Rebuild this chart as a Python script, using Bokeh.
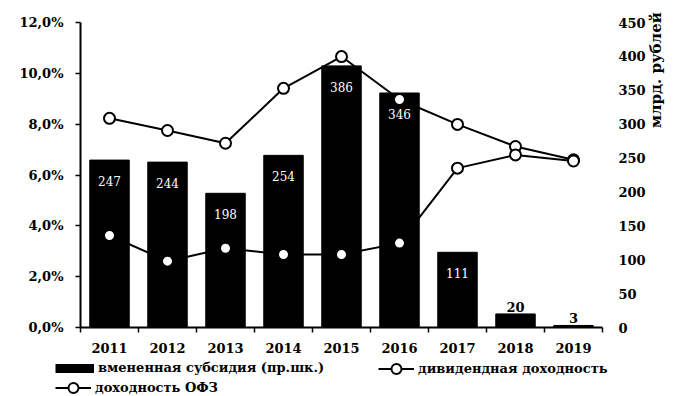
import math
from bokeh.plotting import figure
from bokeh.layouts import column
from bokeh.models import (ColumnDataSource, Range1d, LinearAxis, FixedTicker,
                          Legend, LegendItem)
from bokeh.core.properties import value
from bokeh.embed import file_html
from bokeh.resources import INLINE

# ---------------- data ----------------
years = ["2011", "2012", "2013", "2014", "2015", "2016", "2017", "2018", "2019"]
subsidy = [247, 244, 198, 254, 386, 346, 111, 20, 3]          # млрд. рублей (правая шкала)
dividend_yield = [8.23, 7.75, 7.25, 9.41, 10.66, 8.97, 7.99, 7.12, 6.60]  # %
ofz_yield = [3.62, 2.61, 3.12, 2.87, 2.87, 3.32, 6.27, 6.79, 6.55]        # %

y_ticks = [0, 2, 4, 6, 8, 10, 12]
y_tick_labels = ["0,0%", "2,0%", "4,0%", "6,0%", "8,0%", "10,0%", "12,0%"]
y2_ticks = [0, 50, 100, 150, 200, 250, 300, 350, 400, 450]

label_bar = "вмененная субсидия (пр.шк.)"
label_div = "дивидендная доходность"
label_ofz = "доходность ОФЗ"
label_right = "млрд. рублей"

# ---------------- styling constants ----------------
FONT = "DejaVu Serif"
NAN = float("nan")
n = len(years)
xc = [i + 0.5 for i in range(n)]
inside_threshold = 100

src = ColumnDataSource(dict(x=xc, sub=subsidy, div=dividend_yield, ofz=ofz_yield))
inside = [i for i, v in enumerate(subsidy) if v >= inside_threshold]
outside = [i for i, v in enumerate(subsidy) if v < inside_threshold]
src_in = ColumnDataSource(dict(x=[xc[i] for i in inside], y=[subsidy[i] for i in inside],
                               lab=[str(subsidy[i]) for i in inside]))
src_out = ColumnDataSource(dict(x=[xc[i] for i in outside], y=[subsidy[i] for i in outside],
                                lab=[str(subsidy[i]) for i in outside]))

p = figure(width=676, height=356, output_backend="svg", toolbar_location=None,
           x_range=Range1d(0, n), y_range=Range1d(0, 12),
           min_border_left=80, min_border_right=68, min_border_top=22,
           min_border_bottom=29)
p.extra_y_ranges = {"rub": Range1d(0, 450)}
p.outline_line_color = None
p.xgrid.visible = False
p.ygrid.visible = False
p.background_fill_color = "white"
p.border_fill_color = "white"

# bars
bars = p.vbar(x="x", top="sub", width=0.68, bottom=0, source=src, y_range_name="rub",
              fill_color="black", line_color="black")

# lines
l_div = p.line(x="x", y="div", source=src, line_color="black", line_width=2)
l_ofz = p.line(x="x", y="ofz", source=src, line_color="black", line_width=2)
m_div = p.scatter(x="x", y="div", source=src, size=11, marker="circle",
                  fill_color="white", line_color="black", line_width=2)
m_ofz = p.scatter(x="x", y="ofz", source=src, size=11, marker="circle",
                  fill_color="white", line_color="black", line_width=2)

# bar labels
p.text(x="x", y="y", text="lab", source=src_in, y_range_name="rub",
       text_color="white", text_font=value(FONT), text_font_size="12px",
       text_align="center", text_baseline="middle", y_offset=21)
p.text(x="x", y="y", text="lab", source=src_out, y_range_name="rub",
       text_color="black", text_font=value(FONT), text_font_size="13px",
       text_font_style="bold", text_align="center", text_baseline="bottom", y_offset=-2)

# x axis
xa = p.xaxis[0]
xa.ticker = FixedTicker(ticks=xc, minor_ticks=list(range(n + 1)))
xa.major_label_overrides = {xc[i]: years[i] for i in range(n)}
xa.major_tick_out = 0
xa.major_tick_in = 0
xa.minor_tick_out = 5
xa.minor_tick_in = 0
xa.minor_tick_line_color = "black"
xa.minor_tick_line_width = 1.5
xa.axis_line_width = 2
xa.axis_line_color = "black"
xa.major_label_standoff = 10
xa.major_label_text_font = FONT
xa.major_label_text_font_style = "bold"
xa.major_label_text_font_size = "13px"
xa.major_label_text_color = "black"

# left axis
ya = p.yaxis[0]
ya.ticker = FixedTicker(ticks=y_ticks, minor_ticks=[])
ya.major_label_overrides = {t: s for t, s in zip(y_ticks, y_tick_labels)}
ya.major_tick_out = 5
ya.major_tick_in = 0
ya.major_tick_line_width = 1.5
ya.minor_tick_out = 0
ya.minor_tick_in = 0
ya.axis_line_width = 2
ya.major_label_standoff = 12
ya.major_label_text_font = FONT
ya.major_label_text_font_style = "bold"
ya.major_label_text_font_size = "13px"
ya.major_label_text_color = "black"

# right axis (title reads bottom-to-top, sits near the top of the axis)
ra = LinearAxis(y_range_name="rub", ticker=FixedTicker(ticks=y2_ticks, minor_ticks=[]),
                axis_label="\u00a0" * 9 + label_right)
ra.axis_line_color = None
ra.major_tick_line_color = None
ra.minor_tick_line_color = None
ra.major_label_standoff = 10
ra.major_label_text_font = FONT
ra.major_label_text_font_style = "bold"
ra.major_label_text_font_size = "13px"
ra.major_label_text_color = "black"
ra.axis_label_text_font = FONT
ra.axis_label_text_font_style = "bold"
ra.axis_label_text_font_size = "15px"
ra.axis_label_text_color = "black"
ra.axis_label_standoff = 7
ra.axis_label_orientation = math.pi / 2
p.add_layout(ra, "right")

# ---------------- legend strip ----------------
lf = figure(width=676, height=40, output_backend="svg", toolbar_location=None,
            x_range=Range1d(0, 1), y_range=Range1d(0, 1),
            x_axis_type=None, y_axis_type=None,
            min_border_left=0, min_border_right=0, min_border_top=0, min_border_bottom=0)
lf.frame_align = False
lf.outline_line_color = None
lf.xgrid.visible = False
lf.ygrid.visible = False
lf.background_fill_color = "white"
lf.border_fill_color = "white"

sw_bar = lf.line(x=[NAN], y=[NAN], line_color="black", line_width=9, line_cap="butt")
sw_div_l = lf.line(x=[NAN], y=[NAN], line_color="black", line_width=2)
sw_div_m = lf.scatter(x=[NAN], y=[NAN], marker="circle", fill_color="white",
                      line_color="black", line_width=2)
sw_ofz_l = lf.line(x=[NAN], y=[NAN], line_color="black", line_width=2)
sw_ofz_m = lf.scatter(x=[NAN], y=[NAN], marker="circle", fill_color="white",
                      line_color="black", line_width=2)


def make_legend(items, loc, gw, gh):
    return Legend(items=items, location=loc, glyph_width=gw, glyph_height=gh,
                  label_height=gh, padding=0, margin=0, spacing=0, label_standoff=4,
                  border_line_color=None, background_fill_alpha=0,
                  label_text_font=FONT, label_text_font_style="bold",
                  label_text_font_size="13px", label_text_color="black")


leg_a = make_legend([LegendItem(label=label_bar, renderers=[sw_bar])], (55, 21), 39, 14)
leg_b = make_legend([LegendItem(label=label_div, renderers=[sw_div_l, sw_div_m])], (378, 15), 36, 25)
leg_c = make_legend([LegendItem(label=label_ofz, renderers=[sw_ofz_l, sw_ofz_m])], (55, -4), 36, 25)
for lg in (leg_a, leg_b, leg_c):
    lf.add_layout(lg, "center")

layout = column(p, lf, spacing=0)
open("out.html", "w").write(file_html(layout, INLINE))
